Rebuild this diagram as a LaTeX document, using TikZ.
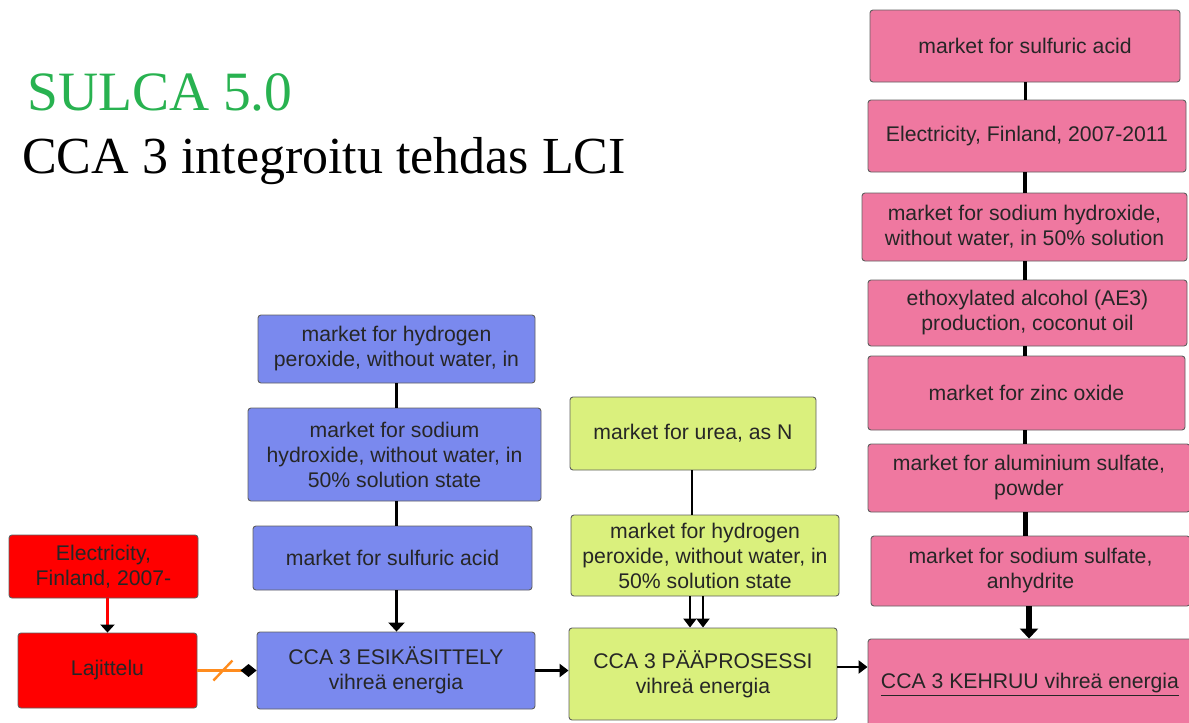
\documentclass[tikz,border=0pt]{standalone}
\usepackage{fontspec}
\setmainfont{Liberation Serif}
\newfontfamily\boxfont{Liberation Sans}
\usetikzlibrary{arrows.meta}

\definecolor{redbox}{RGB}{255,0,0}
\definecolor{bluebox}{RGB}{122,137,238}
\definecolor{greenbox}{RGB}{218,240,125}
\definecolor{pinkbox}{RGB}{239,120,160}
\definecolor{titlegreen}{RGB}{40,178,80}
\definecolor{edgegray}{RGB}{95,95,95}
\definecolor{linkorange}{RGB}{255,140,30}

\begin{document}
\begin{tikzpicture}[x=1pt,y=-1pt,
  box/.style={draw=edgegray, line width=0.9pt, rounded corners=3pt, inner sep=0pt,
    align=center, text=black!85, font=\boxfont\fontsize{21.2}{25}\selectfont},
  redbx/.style={box, fill=redbox},
  bluebx/.style={box, fill=bluebox},
  greenbx/.style={box, fill=greenbox},
  pinkbx/.style={box, fill=pinkbox},
  link/.style={line width=2.4pt, black},
  flow/.style={link, -{Triangle[length=9pt,width=13pt]}},
  chain/.style={line width=#1, black},
]
\useasboundingbox (0,0) rectangle (1189,723);

% titles
\node[anchor=base west, inner sep=0pt, text=titlegreen, font=\fontsize{55.5}{60}\selectfont] (t1) at (27,110) {SULCA 5.0};
\node[anchor=base west, inner sep=0pt, text=black, font=\fontsize{52}{60}\selectfont] (t2) at (22,173) {CCA 3 integroitu tehdas LCI};

% sorting stage
\node[redbx, minimum width=189, minimum height=63] (el) at (103.5,566.5) {Electricity,\\Finland, 2007-};
\node[redbx, minimum width=179, minimum height=75] (lj) at (107.5,670.5) {Lajittelu};

% pretreatment stage
\node[bluebx, minimum width=277, minimum height=68] (b1) at (396.5,349) {market for hydrogen\\peroxide, without water, in};
\node[bluebx, minimum width=293, minimum height=93] (b2) at (394.5,454.5) {market for sodium\\hydroxide, without water, in\\50\% solution state};
\node[bluebx, minimum width=279, minimum height=64] (b3) at (392.5,558) {market for sulfuric acid};
\node[bluebx, minimum width=278, minimum height=77] (esi) at (396,670.5) {CCA 3 ESIKÄSITTELY\\vihreä energia};

% main process stage
\node[greenbx, minimum width=246, minimum height=73] (g1) at (693,433.5) {market for urea, as N};
\node[greenbx, minimum width=268, minimum height=81] (g2) at (705,555.5) {market for hydrogen\\peroxide, without water, in\\50\% solution state};
\node[greenbx, minimum width=268, minimum height=92] (pp) at (703,674) {CCA 3 PÄÄPROSESSI\\vihreä energia};

% spinning stage
\node[pinkbx, minimum width=310, minimum height=72] (p1) at (1025,46) {market for sulfuric acid};
\node[pinkbx, minimum width=318, minimum height=72] (p2) at (1027,136) {Electricity, Finland, 2007-2011};
\node[pinkbx, minimum width=325, minimum height=68] (p3) at (1024.5,227) {market for sodium hydroxide,\\without water, in 50\% solution};
\node[pinkbx, minimum width=319, minimum height=66] (p4) at (1027.5,313) {ethoxylated alcohol (AE3)\\production, coconut oil};
\node[pinkbx, minimum width=317, minimum height=74] (p5) at (1026.5,393) {market for zinc oxide};
\node[pinkbx, minimum width=322, minimum height=68] (p6) at (1029,478) {market for aluminium sulfate,\\powder};
\node[pinkbx, minimum width=319, minimum height=70] (p7) at (1030.5,571) {market for sodium sulfate,\\anhydrite};
\node[pinkbx, minimum width=324, minimum height=91] (keh) at (1030,684.5) {\underline{CCA 3 KEHRUU vihreä energia}};

% connectors: sorting
\draw[red, line width=2.4pt, -{Triangle[black,length=8pt,width=14pt]}] (lj.north |- el.south) -- (lj.north);
\draw[linkorange, line width=2.4pt, -{Diamond[black,length=16pt,width=13pt]}] (lj.east) -- (esi.west);
\draw[linkorange, line width=2.4pt] ([xshift=16pt,yshift=-10pt]lj.east) -- ([xshift=35pt,yshift=10pt]lj.east);

% connectors: pretreatment
\draw[link] (b1.south) -- (b1.south |- b2.north);
\draw[link] (b1.south |- b2.south) -- (b1.south |- b3.north);
\draw[line width=3.6pt, -{Triangle[length=9pt,width=16pt]}] (b1.south |- b3.south) -- (b1.south |- esi.north);
\draw[flow] (esi.east) -- (esi.east -| pp.west);

% connectors: main process
\draw[link] ([xshift=-1pt]g1.south) -- ([xshift=-1pt]g1.south |- g2.north);
\draw[flow] ([xshift=-15pt]g2.south) -- ([xshift=-15pt]g2.south |- pp.north);
\draw[flow] ([xshift=-2pt]g2.south) -- ([xshift=-2pt]g2.south |- pp.north);
\draw[flow] ([yshift=7pt]pp.east) -- ([yshift=7pt]pp.east -| keh.west);

% connectors: spinning
\draw[chain=3pt] (p1.south) -- (p1.south |- p2.north);
\draw[chain=4pt] (p1.south |- p2.south) -- (p1.south |- p3.north);
\draw[chain=4pt] (p1.south |- p3.south) -- (p1.south |- p4.north);
\draw[chain=4pt] (p1.south |- p4.south) -- (p1.south |- p5.north);
\draw[chain=4.5pt] (p1.south |- p5.south) -- (p1.south |- p6.north);
\draw[chain=5pt] (p1.south |- p6.south) -- (p1.south |- p7.north);
\draw[line width=6pt, -{Triangle[length=10pt,width=18pt]}] ([xshift=4pt]p1.south |- p7.south) -- ([xshift=4pt]p1.south |- keh.north);
\end{tikzpicture}
\end{document}
